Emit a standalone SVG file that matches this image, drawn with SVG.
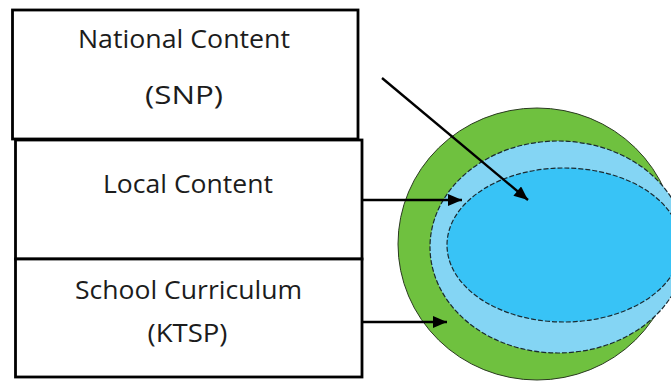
<svg xmlns="http://www.w3.org/2000/svg" width="671" height="382" viewBox="0 0 671 382">
<style>
.box{fill:#fff;stroke:#000;stroke-width:2.8}
.lbl{font-family:"Open Sans","Noto Sans",sans-serif;font-size:25px;fill:#1c1c1c;text-anchor:middle}
.conn{stroke:#000;stroke-width:2.4;fill:none;marker-end:url(#ah)}
.dash{stroke:#1a2a30;stroke-width:1.2;stroke-dasharray:5 2}
</style>
<defs>
<marker id="ah" markerUnits="userSpaceOnUse" markerWidth="15" markerHeight="12" refX="14" refY="6" orient="auto">
<path d="M0,0 L14,6 L0,12 Z" fill="#000"/>
</marker>
</defs>
<rect width="671" height="382" fill="#fff"/>
<g id="circle">
<ellipse cx="537" cy="244" rx="139" ry="136" fill="#6fc13f" stroke="#2a3a20" stroke-width="1"/>
<ellipse cx="558" cy="247" rx="128" ry="106" fill="#84d5f4" class="dash"/>
<ellipse cx="564" cy="245" rx="117" ry="77" fill="#38c3f6" class="dash"/>
</g>
<g id="national">
<rect class="box" x="12.5" y="10" width="345.5" height="129"/>
<text class="lbl" x="184" y="48" textLength="212" lengthAdjust="spacingAndGlyphs">National Content</text>
<text class="lbl" x="184" y="104" textLength="78" lengthAdjust="spacingAndGlyphs">(SNP)</text>
</g>
<g id="local">
<rect class="box" x="15.5" y="140" width="346.5" height="119"/>
<text class="lbl" x="188" y="193" textLength="170" lengthAdjust="spacingAndGlyphs">Local Content</text>
</g>
<g id="school">
<rect class="box" x="15.5" y="259" width="346.5" height="118"/>
<text class="lbl" x="188.5" y="299" textLength="227" lengthAdjust="spacingAndGlyphs">School Curriculum</text>
<text class="lbl" x="187.5" y="342" textLength="80" lengthAdjust="spacingAndGlyphs">(KTSP)</text>
</g>
<g id="connectors">
<line class="conn" x1="382" y1="78" x2="528" y2="200"/>
<line class="conn" x1="362" y1="200" x2="462" y2="200"/>
<line class="conn" x1="362" y1="322" x2="447" y2="322"/>
</g>
</svg>
